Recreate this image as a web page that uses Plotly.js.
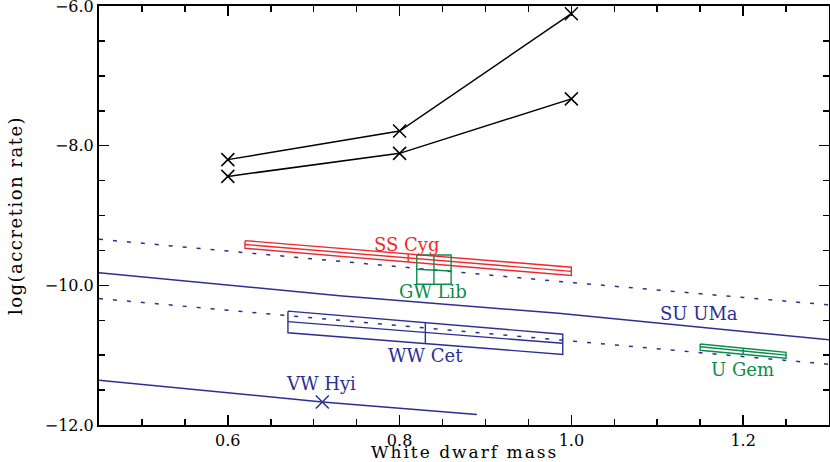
<!DOCTYPE html>
<html>
<head>
<meta charset="utf-8">
<script src="https://cdn.plot.ly/plotly-3.0.1.min.js"></script>
<style>
  html, body { margin: 0; padding: 0; background: #fff; }
  #chart { width: 830px; height: 462px; }
  .ytitle { letter-spacing: 1.5px; }
</style>
</head>
<body>
<div id="chart"></div>
<script>
// ---------- data ----------
// black model tracks
const trackMass  = [0.6, 0.8, 1.0];
const trackUpper = [-8.20, -7.79, -6.11];
const trackLower = [-8.44, -8.11, -7.33];

// blue relations
const suUMaMass = [0.45, 0.73, 0.985, 1.3];
const suUMaRate = [-9.82, -10.15, -10.40, -10.78];
const dashHiMass = [0.45, 1.0, 1.3];
const dashHiRate = [-9.34, -9.96, -10.28];
const dashLoMass = [0.45, 1.0, 1.3];
const dashLoRate = [-10.19, -10.80, -11.13];
const vwHyiLineMass = [0.45, 0.71, 0.89];
const vwHyiLineRate = [-11.36, -11.67, -11.85];
const vwHyiMass = [0.71];
const vwHyiRate = [-11.67];

// boxes: mass range, split mass, top / middle / bottom edges at the two ends
const ssCygMass = [0.62, 1.0];  const ssCygSplit = 0.81;
const ssCygTop = [-9.36, -9.74]; const ssCygMid = [-9.415, -9.80]; const ssCygBot = [-9.47, -9.86];
const gwLibMass = [0.82, 0.86]; const gwLibSplit = 0.84;
const gwLibTop = [-9.565, -9.565]; const gwLibMid = [-9.77, -9.795]; const gwLibBot = [-9.985, -9.985];
const wwCetMass = [0.67, 0.99]; const wwCetSplit = 0.83;
const wwCetTop = [-10.37, -10.70]; const wwCetMid = [-10.52, -10.83]; const wwCetBot = [-10.68, -10.99];
const uGemMass = [1.15, 1.25]; const uGemSplit = 1.20;
const uGemTop = [-10.84, -10.96]; const uGemMid = [-10.88, -11.00]; const uGemBot = [-10.93, -11.045];

// labels
const labelText = ['SS Cyg', 'GW Lib', 'WW Cet', 'SU UMa', 'VW Hyi', 'U Gem'];
const labelMass = [0.809, 0.839, 0.83, 1.149, 0.709, 1.199];
const labelRate = [-9.41, -10.09, -11.0, -10.41, -11.40, -11.20];
const labelKind = ['red', 'green', 'blue', 'blue', 'blue', 'green'];

const xTitle = 'White dwarf mass';
const yTitle = 'log(accretion rate)';

// ---------- styles ----------
const RED = '#f0282d', GREEN = '#0b8c4c', BLUE = '#2b2f92', BLACK = '#000000';
const colorOf = {red: RED, green: GREEN, blue: BLUE};
const FONT = '"DejaVu Serif", serif';

function boxTrace(mass, split, top, mid, bot, color) {
  const lerp = (arr, m) => arr[0] + (arr[1] - arr[0]) * (m - mass[0]) / (mass[1] - mass[0]);
  return {
    type: 'scatter', mode: 'lines', hoverinfo: 'skip', showlegend: false,
    x: [mass[0], mass[1], mass[1], mass[0], mass[0], null, mass[0], mass[1], null, split, split],
    y: [top[0], top[1], bot[1], bot[0], top[0], null, mid[0], mid[1], null, lerp(top, split), lerp(bot, split)],
    line: {color: color, width: 1.4}, connectgaps: false
  };
}

const xMarker = (c) => ({symbol: 'x-thin', size: 13, color: c, line: {color: c, width: 1.5}});

const traces = [
  {type: 'scatter', mode: 'lines', x: dashHiMass, y: dashHiRate, line: {color: BLUE, width: 1.5, dash: '4px,10px'}, showlegend: false},
  {type: 'scatter', mode: 'lines', x: dashLoMass, y: dashLoRate, line: {color: BLUE, width: 1.5, dash: '4px,10px'}, showlegend: false},
  {type: 'scatter', mode: 'lines', x: suUMaMass, y: suUMaRate, line: {color: BLUE, width: 1.5}, showlegend: false},
  {type: 'scatter', mode: 'lines', x: vwHyiLineMass, y: vwHyiLineRate, line: {color: BLUE, width: 1.5}, showlegend: false},
  {type: 'scatter', mode: 'markers', x: vwHyiMass, y: vwHyiRate, marker: xMarker(BLUE), showlegend: false},
  boxTrace(ssCygMass, ssCygSplit, ssCygTop, ssCygMid, ssCygBot, RED),
  boxTrace(gwLibMass, gwLibSplit, gwLibTop, gwLibMid, gwLibBot, GREEN),
  boxTrace(wwCetMass, wwCetSplit, wwCetTop, wwCetMid, wwCetBot, BLUE),
  boxTrace(uGemMass, uGemSplit, uGemTop, uGemMid, uGemBot, GREEN),
  {type: 'scatter', mode: 'lines+markers', x: trackMass, y: trackUpper, line: {color: BLACK, width: 1.5}, marker: xMarker(BLACK), showlegend: false},
  {type: 'scatter', mode: 'lines+markers', x: trackMass, y: trackLower, line: {color: BLACK, width: 1.5}, marker: xMarker(BLACK), showlegend: false}
];

const annotations = labelText.map((t, i) => ({
  x: labelMass[i], y: labelRate[i], xref: 'x', yref: 'y', text: t, showarrow: false,
  xanchor: 'center', yanchor: 'middle',
  font: {family: FONT, size: 18, color: colorOf[labelKind[i]]}
}));
// x-axis title, placed at the bottom edge
annotations.push({
  x: 0.5, y: 0, xref: 'paper', yref: 'paper', text: xTitle, showarrow: false,
  xanchor: 'center', yanchor: 'bottom', yshift: -38, borderpad: 0,
  font: {family: FONT, size: 17, color: BLACK}
});

const axisCommon = {
  showline: true, linecolor: BLACK, linewidth: 2, mirror: 'ticks',
  ticks: 'inside', ticklen: 10, tickwidth: 1.5, tickcolor: BLACK,
  showgrid: false, zeroline: false, tickformat: '.1f',
  ticklabeloverflow: 'allow',
  tickfont: {family: FONT, size: 16, color: BLACK}
};

const layout = {
  width: 830, height: 462,
  margin: {l: 99, r: 1, t: 6, b: 37},
  paper_bgcolor: '#fff', plot_bgcolor: '#fff',
  font: {family: FONT, color: BLACK},
  showlegend: false,
  xaxis: Object.assign({}, axisCommon, {
    range: [0.45, 1.3], tick0: 0, dtick: 0.2,
    minor: {dtick: 0.05, ticks: 'inside', ticklen: 6, tickwidth: 1.5, tickcolor: BLACK}
  }),
  yaxis: Object.assign({}, axisCommon, {
    range: [-12, -6], tick0: 0, dtick: 2,
    minor: {dtick: 0.5, ticks: 'inside', ticklen: 6, tickwidth: 1.5, tickcolor: BLACK},
    title: {text: yTitle, font: {family: FONT, size: 18, color: BLACK}, standoff: 17}
  }),
  annotations: annotations
};

Plotly.newPlot('chart', traces, layout, {displayModeBar: false, staticPlot: true}).then(() => {
  // widen the x title letter spacing like the reference lettering
  document.querySelectorAll('.annotation-text').forEach(el => {
    if (el.textContent === xTitle) el.style.letterSpacing = '2px';
  });
});
</script>
</body>
</html>
